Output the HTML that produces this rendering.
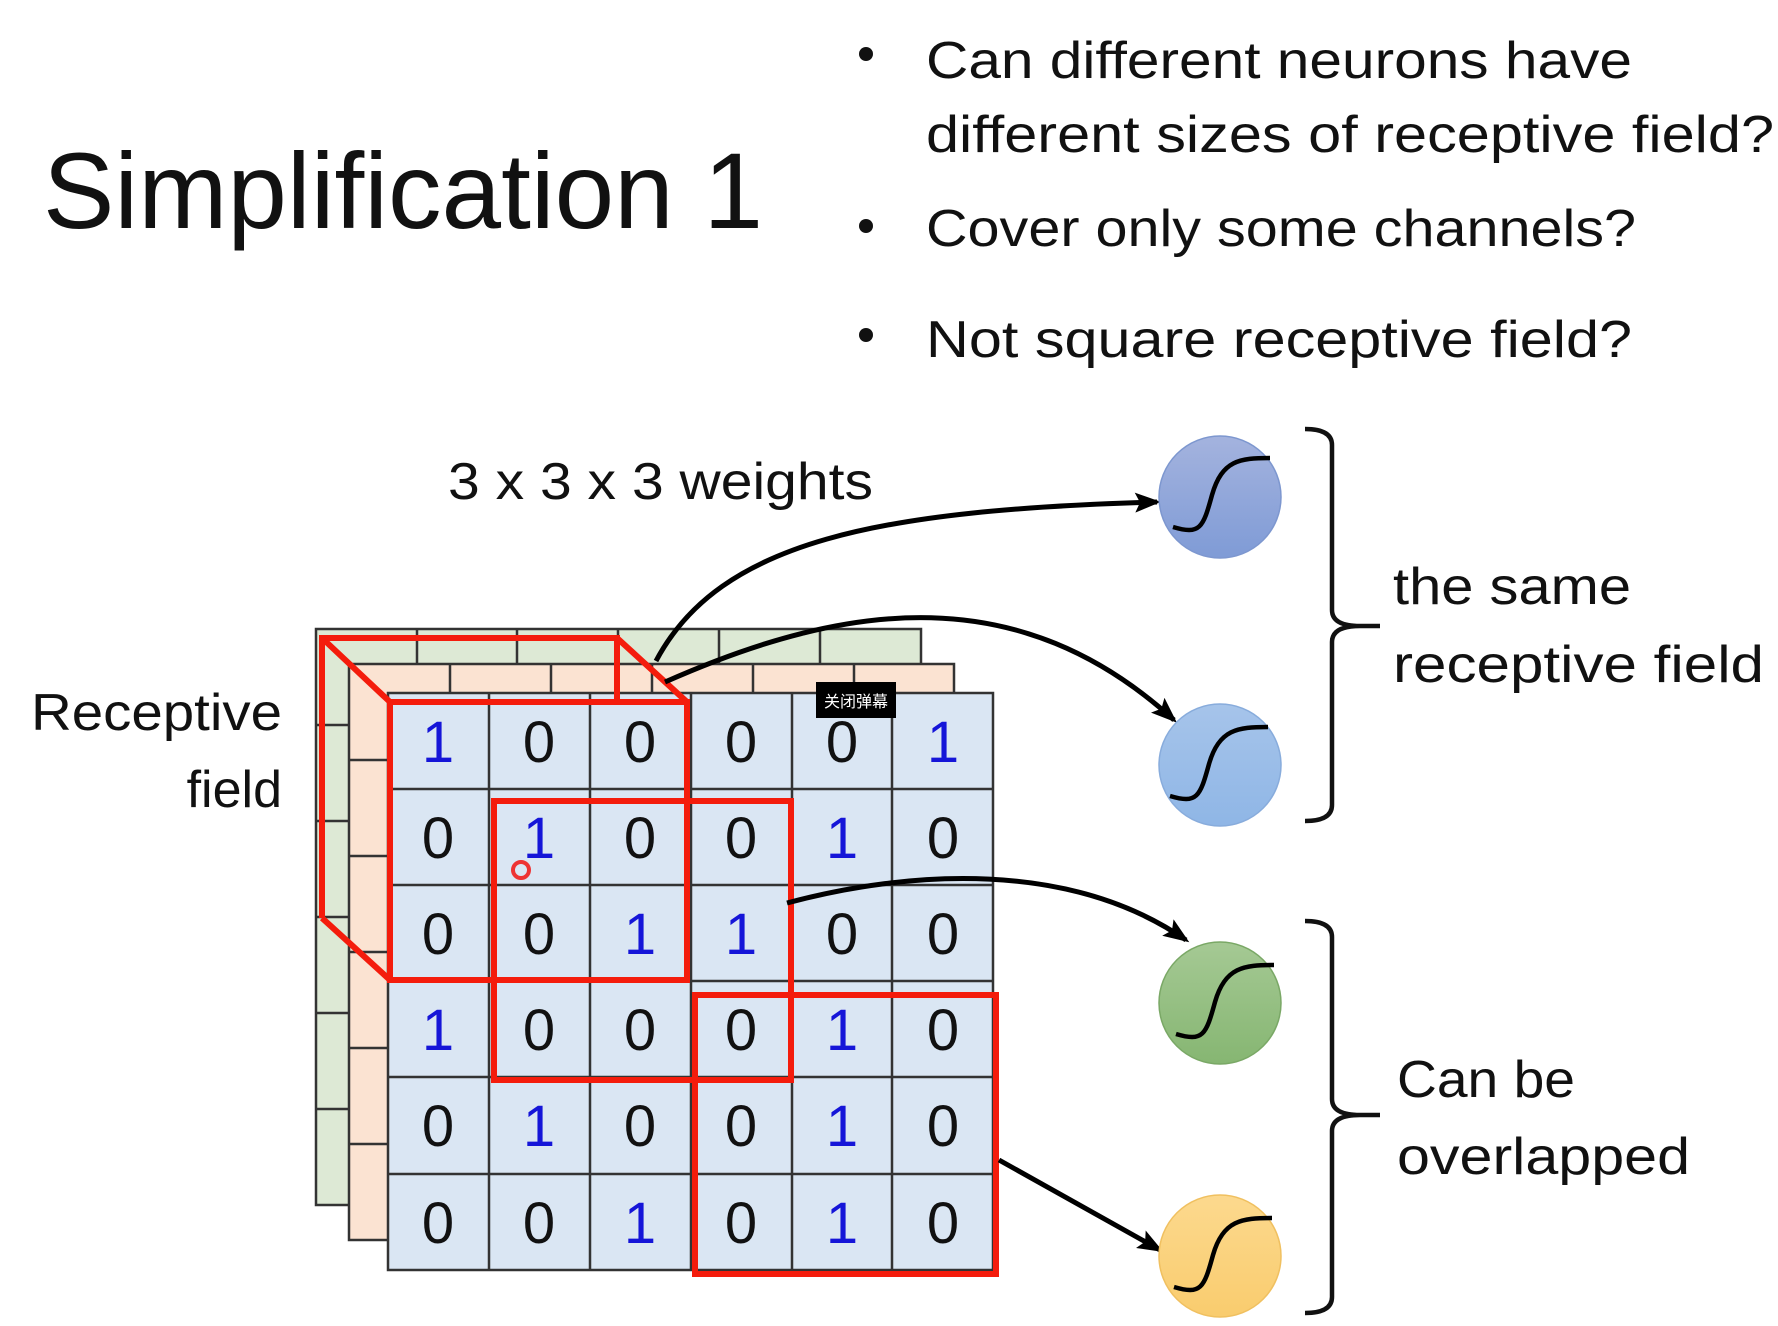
<!DOCTYPE html>
<html><head><meta charset="utf-8"><style>html,body{margin:0;padding:0;background:#fff}svg{display:block}</style></head>
<body>
<svg width="1778" height="1326" viewBox="0 0 1778 1326" xmlns="http://www.w3.org/2000/svg" font-family="Liberation Sans, DejaVu Sans, sans-serif">
<defs>
<linearGradient id="g1" x1="0" y1="0" x2="0" y2="1"><stop offset="0" stop-color="#a4b3de"/><stop offset="1" stop-color="#7f9bd6"/></linearGradient>
<linearGradient id="g2" x1="0" y1="0" x2="0" y2="1"><stop offset="0" stop-color="#a6c4ea"/><stop offset="1" stop-color="#8fb6e6"/></linearGradient>
<linearGradient id="g3" x1="0" y1="0" x2="0" y2="1"><stop offset="0" stop-color="#a5c994"/><stop offset="1" stop-color="#86b672"/></linearGradient>
<linearGradient id="g4" x1="0" y1="0" x2="0" y2="1"><stop offset="0" stop-color="#fcd98e"/><stop offset="1" stop-color="#f9cc6e"/></linearGradient>
<marker id="ah" markerWidth="26" markerHeight="20" refX="22" refY="10" orient="auto" markerUnits="userSpaceOnUse" viewBox="0 0 26 20"><path d="M0,0 L26,10 L0,20 L5,10 z" fill="#000"/></marker>
</defs>

<text x="43" y="228" font-size="108" textLength="720" lengthAdjust="spacingAndGlyphs" fill="#111">Simplification 1</text>

<g font-size="52" fill="#111">
<circle cx="866" cy="54" r="7" fill="#111"/>
<text x="926" y="78" textLength="706" lengthAdjust="spacingAndGlyphs">Can different neurons have</text>
<text x="926" y="152" textLength="848" lengthAdjust="spacingAndGlyphs">different sizes of receptive field?</text>
<circle cx="866" cy="226" r="7" fill="#111"/>
<text x="926" y="246" textLength="710" lengthAdjust="spacingAndGlyphs">Cover only some channels?</text>
<circle cx="866" cy="335" r="7" fill="#111"/>
<text x="926" y="357" textLength="706" lengthAdjust="spacingAndGlyphs">Not square receptive field?</text>
</g>

<text x="448" y="499" font-size="52" textLength="425" lengthAdjust="spacingAndGlyphs" fill="#111">3 x 3 x 3 weights</text>
<text x="31" y="730" font-size="52" textLength="251" lengthAdjust="spacingAndGlyphs" fill="#111">Receptive</text>
<text x="282" y="807" font-size="52" text-anchor="end" fill="#111">field</text>

<g stroke="#333" stroke-width="2.5" fill="#dde9d5">
<rect x="316" y="629" width="605" height="576"/>
<path d="M417,629V665 M517,629V665 M618,629V665 M719,629V665 M820,629V665 M316,725H349 M316,821H349 M316,917H349 M316,1013H349 M316,1109H349" fill="none"/>
</g>
<g stroke="#333" stroke-width="2.5" fill="#fbe3d2">
<rect x="349" y="664" width="605" height="576"/>
<path d="M450,664V693 M551,664V693 M652,664V693 M753,664V693 M854,664V693 M349,760H388 M349,856H388 M349,952H388 M349,1048H388 M349,1144H388" fill="none"/>
</g>
<g stroke="#333" stroke-width="2.5">
<rect x="388" y="693" width="605" height="577" fill="#dae6f3"/>
<path d="M489,693V1270 M590,693V1270 M691,693V1270 M792,693V1270 M892,693V1270 M388,789H993 M388,885H993 M388,981H993 M388,1077H993 M388,1174H993" fill="none"/>
</g>
<g font-size="58" text-anchor="middle">
<g fill="#111">
<text x="539" y="762">0</text><text x="640" y="762">0</text><text x="741" y="762">0</text><text x="842" y="762">0</text>
<text x="438" y="858">0</text><text x="640" y="858">0</text><text x="741" y="858">0</text><text x="943" y="858">0</text>
<text x="438" y="954">0</text><text x="539" y="954">0</text><text x="842" y="954">0</text><text x="943" y="954">0</text>
<text x="539" y="1050">0</text><text x="640" y="1050">0</text><text x="741" y="1050">0</text><text x="943" y="1050">0</text>
<text x="438" y="1146">0</text><text x="640" y="1146">0</text><text x="741" y="1146">0</text><text x="943" y="1146">0</text>
<text x="438" y="1243">0</text><text x="539" y="1243">0</text><text x="741" y="1243">0</text><text x="943" y="1243">0</text>
</g>
<g fill="#1515d8">
<text x="438" y="762">1</text><text x="943" y="762">1</text>
<text x="539" y="858">1</text><text x="842" y="858">1</text>
<text x="640" y="954">1</text><text x="741" y="954">1</text>
<text x="438" y="1050">1</text><text x="842" y="1050">1</text>
<text x="539" y="1146">1</text><text x="842" y="1146">1</text>
<text x="640" y="1243">1</text><text x="842" y="1243">1</text>
</g>
</g>

<g stroke="#f41c0c" stroke-width="6" fill="none" stroke-linejoin="miter">
<path d="M322,918 V638 H617 V700"/>
<path d="M322,638 L390,702 M617,638 L687,702 M322,918 L390,980"/>
<rect x="390" y="702" width="297" height="278"/>
<rect x="494" y="801" width="297" height="279"/>
<rect x="695" y="995" width="301" height="279"/>
</g>
<circle cx="521" cy="870" r="8" fill="none" stroke="#e33" stroke-width="4"/>

<g stroke="#000" stroke-width="5" fill="none" marker-end="url(#ah)">
<path d="M656,661 C720,540 880,510 1157,502"/>
<path d="M665,682 C850,600 1020,580 1174,720"/>
<path d="M787,903 C910,870 1070,860 1186,940"/>
<path d="M999,1160 L1160,1250"/>
</g>

<rect x="816" y="682" width="80" height="36" fill="#000"/>
<text x="856" y="707" font-size="16" fill="#fff" text-anchor="middle" font-family="Liberation Sans, Noto Sans CJK SC, sans-serif">关闭弹幕</text>

<g stroke-width="1.5">
<circle cx="1220" cy="497" r="61" fill="url(#g1)" stroke="#7d97cf"/>
<circle cx="1220" cy="765" r="61" fill="url(#g2)" stroke="#88acdc"/>
<circle cx="1220" cy="1003" r="61" fill="url(#g3)" stroke="#7aa866"/>
<circle cx="1220" cy="1256" r="61" fill="url(#g4)" stroke="#f0c060"/>
</g>
<g stroke="#000" stroke-width="4.5" fill="none">
<path d="M1173,527 C1200,535 1203,528 1212,495 C1222,460 1240,458 1270,458"/>
<path d="M1170,796 C1197,804 1200,797 1209,764 C1219,729 1238,727 1268,727"/>
<path d="M1176,1034 C1203,1042 1206,1035 1215,1002 C1225,967 1244,965 1274,965"/>
<path d="M1174,1287 C1201,1295 1204,1288 1213,1255 C1223,1220 1242,1218 1272,1218"/>
</g>

<g stroke="#111" stroke-width="4.5" fill="none">
<path d="M1305,429 Q1332,429 1332,445 V610 Q1332,626 1360,626 H1380 M1360,626 Q1332,626 1332,642 V805 Q1332,821 1305,821"/>
<path d="M1305,921 Q1332,921 1332,937 V1099 Q1332,1115 1360,1115 H1380 M1360,1115 Q1332,1115 1332,1131 V1297 Q1332,1313 1305,1313"/>
</g>

<g font-size="52" fill="#111">
<text x="1393" y="604" textLength="238" lengthAdjust="spacingAndGlyphs">the same</text>
<text x="1393" y="682" textLength="371" lengthAdjust="spacingAndGlyphs">receptive field</text>
<text x="1397" y="1097" textLength="178" lengthAdjust="spacingAndGlyphs">Can be</text>
<text x="1397" y="1174" textLength="293" lengthAdjust="spacingAndGlyphs">overlapped</text>
</g>
</svg>
</body></html>
